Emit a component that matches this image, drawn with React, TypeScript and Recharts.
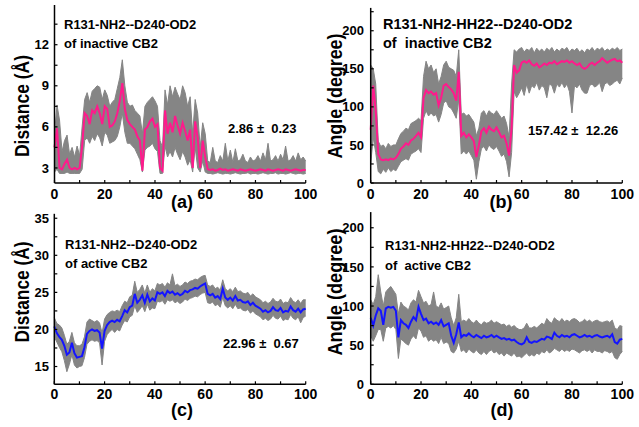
import React from 'react';
import { ComposedChart, Area, Line, XAxis, YAxis, Label } from 'recharts';

const FONT = "'Liberation Sans', Arial, sans-serif";
const GRAY = '#858585';
const PINK = '#ff1a8c';
const BLUE = '#1414ff';

// time in ns, one sample per ns
const TIME = Array.from({ length: 101 }, (_, i) => i);
const X_TICKS = [0, 10, 20, 30, 40, 50, 60, 70, 80, 90, 100];

// (a) distance, inactive
const A_MEAN = [
  4.5, 5.9, 3.0, 2.9, 3.3, 3.6, 3.0, 2.9, 3.0, 2.9,
  3.0, 4.6, 7.0, 6.8, 6.2, 7.2, 7.0, 7.5, 7.0, 6.2,
  7.5, 7.3, 6.0, 6.1, 6.4, 7.0, 7.9, 9.2, 7.3, 6.5,
  6.2, 6.0, 5.8, 5.3, 5.0, 2.8, 5.8, 6.0, 6.4, 6.6,
  6.0, 6.2, 3.0, 2.8, 7.2, 5.5, 6.3, 5.6, 6.8, 6.1,
  5.5, 6.3, 5.7, 5.0, 5.8, 3.0, 6.4, 5.2, 3.0, 5.0,
  3.8, 2.9, 2.85, 2.9, 2.8, 2.85, 2.95, 2.85, 2.9, 2.8,
  2.85, 2.9, 2.85, 2.8, 2.9, 2.85, 2.8, 2.85, 2.9, 2.85,
  2.8, 2.85, 2.9, 2.85, 2.8, 2.9, 2.85, 2.8, 2.85, 2.9,
  2.85, 2.8, 2.9, 2.85, 2.8, 2.85, 2.9, 2.85, 2.8, 2.85,
  2.85,
];
const A_LO = [
  2.7, 2.9, 2.6, 2.6, 2.6, 2.7, 2.6, 2.6, 2.6, 2.6,
  2.6, 2.9, 5.0, 5.2, 4.8, 5.3, 5.0, 5.5, 5.2, 4.6,
  5.6, 5.4, 4.8, 4.9, 5.0, 5.3, 6.0, 7.0, 5.6, 4.8,
  4.8, 4.6, 4.4, 4.0, 3.6, 2.7, 4.3, 4.5, 4.6, 4.8,
  4.4, 4.2, 2.6, 2.6, 4.6, 3.8, 4.2, 3.8, 4.5, 4.0,
  3.6, 4.2, 3.8, 3.2, 3.6, 2.7, 4.5, 3.0, 2.7, 3.5,
  2.7, 2.6, 2.6, 2.55, 2.6, 2.65, 2.6, 2.55, 2.6, 2.6,
  2.55, 2.6, 2.65, 2.6, 2.55, 2.6, 2.6, 2.65, 2.55, 2.6,
  2.6, 2.55, 2.6, 2.65, 2.6, 2.55, 2.6, 2.6, 2.65, 2.55,
  2.6, 2.6, 2.55, 2.6, 2.65, 2.6, 2.55, 2.6, 2.6, 2.55,
  2.6,
];
const A_HI = [
  5.5, 7.6, 6.5, 4.2, 5.0, 5.4, 4.0, 4.5, 3.8, 4.6,
  3.9, 6.0, 8.0, 8.5, 7.8, 8.6, 8.8, 9.0, 8.9, 8.0,
  8.7, 8.3, 7.5, 7.8, 8.0, 8.8, 9.6, 10.9, 9.0, 7.8,
  7.5, 7.6, 7.2, 7.0, 6.8, 5.5, 7.5, 7.8, 8.0, 8.2,
  7.9, 7.5, 5.0, 4.5, 8.7, 7.6, 9.0, 8.2, 8.9, 8.4,
  8.0, 9.0, 8.5, 7.5, 8.2, 5.5, 8.0, 7.0, 4.5, 6.3,
  5.5, 3.5, 3.4, 4.5, 3.5, 3.4, 3.9, 3.5, 4.8, 3.5,
  4.3, 3.4, 4.4, 3.5, 3.6, 4.0, 3.5, 3.4, 3.8, 3.5,
  3.6, 3.9, 3.5, 4.1, 3.6, 4.8, 3.5, 3.6, 3.9, 3.5,
  4.0, 3.6, 4.6, 3.5, 3.6, 3.9, 3.5, 4.1, 3.6, 3.8,
  3.5,
];

// (b) angle, inactive
const B_MEAN = [
  70, 128, 95, 38, 31, 30, 31, 30, 32, 31,
  33, 38, 45, 48, 52, 50, 56, 58, 62, 66,
  60, 112, 122, 118, 120, 116, 118, 102, 112, 128,
  130, 126, 123, 118, 108, 146, 62, 66, 60, 64,
  60, 55, 34, 50, 68, 72, 66, 74, 70, 68,
  73, 67, 60, 62, 52, 36, 72, 155, 145, 148,
  158, 160, 158, 161, 156, 154, 157, 152, 154, 157,
  155, 158, 157, 160, 156, 158, 160, 159, 161, 158,
  160, 157, 155, 157, 152, 150, 152, 156, 158, 155,
  158, 160, 164, 161, 158, 160, 162, 163, 160, 161,
  158,
];
const B_LO = [
  25, 60, 40, 15, 12, 18, 14, 20, 15, 18,
  16, 22, 28, 30, 32, 30, 38, 40, 42, 45,
  40, 85, 95, 88, 92, 88, 90, 80, 90, 105,
  108, 100, 98, 92, 85, 110, 38, 42, 38, 42,
  36, 30, 5, 28, 45, 48, 42, 50, 46, 44,
  48, 42, 35, 38, 28, 8, 40, 120, 112, 118,
  125, 115, 130, 118, 128, 125, 132, 122, 128, 125,
  112, 130, 128, 118, 130, 126, 132, 125, 130, 120,
  92, 128, 125, 130, 122, 118, 118, 128, 130, 126,
  128, 132, 120, 130, 132, 128, 130, 133, 135, 130,
  138,
];
const B_HI = [
  155, 150, 130, 55, 48, 50, 45, 52, 48, 50,
  50, 58, 65, 68, 72, 70, 78, 80, 82, 85,
  82, 140, 160, 150, 155, 145, 150, 130, 140, 155,
  160, 152, 150, 148, 140, 175, 90, 92, 88, 90,
  85, 80, 62, 72, 92, 95, 88, 95, 92, 90,
  95, 90, 85, 88, 78, 60, 130, 175, 172, 176,
  178, 172, 176, 174, 178, 171, 177, 173, 176, 172,
  177, 174, 178, 172, 176, 173, 177, 175, 178, 172,
  176, 174, 177, 172, 175, 171, 176, 174, 178, 173,
  177, 175, 178, 173, 176, 174, 177, 175, 178, 174,
  176,
];

// (c) distance, active
const C_MEAN = [
  20.4, 19.5, 19.0, 18.6, 17.8, 16.6, 16.9, 18.2, 16.8, 16.2,
  16.3, 16.4, 17.6, 19.4, 19.8, 20.0, 19.8, 19.9, 19.6, 17.4,
  19.8, 20.6, 21.0, 21.2, 21.0, 21.3, 21.1, 21.8, 22.6, 22.3,
  23.0, 23.2, 24.8, 23.6, 24.0, 24.6, 23.6, 24.7, 23.8, 24.2,
  23.9, 25.0, 24.8, 25.0, 24.5, 25.2, 24.9, 25.1, 24.7, 24.9,
  24.6, 24.8, 25.2, 25.0, 25.3, 25.4, 25.6, 25.5, 25.8, 26.0,
  26.2, 24.8, 24.6, 24.8, 24.3, 24.5, 24.1, 25.5, 24.3, 24.0,
  24.3, 23.9, 24.5, 23.9, 24.0, 23.7, 23.6, 23.8, 23.3, 23.6,
  23.2, 23.0, 22.8, 22.4, 22.6, 22.3, 22.5, 23.0, 22.6, 22.5,
  22.9, 22.3, 22.5, 22.4, 23.1, 22.6, 22.4, 22.8, 22.3, 22.7,
  22.8,
];
const C_LO = [
  19.0, 18.3, 17.6, 17.0, 15.8, 14.3, 15.3, 16.6, 15.2, 14.8,
  15.0, 15.1, 16.2, 18.0, 18.4, 18.6, 18.4, 18.5, 18.2, 15.2,
  18.4, 19.3, 19.7, 20.0, 19.6, 20.0, 19.8, 20.6, 21.2, 21.0,
  21.7, 21.9, 23.2, 22.3, 22.7, 23.2, 22.4, 23.4, 22.6, 22.9,
  22.8, 23.8, 23.7, 23.9, 23.4, 24.0, 23.8, 24.0, 23.6, 23.8,
  23.5, 23.7, 24.1, 23.9, 24.2, 24.3, 24.5, 24.4, 24.7, 24.9,
  25.0, 23.6, 23.5, 23.7, 23.2, 23.4, 23.0, 24.3, 23.2, 22.9,
  23.2, 22.8, 23.4, 22.8, 22.9, 22.6, 22.5, 22.7, 22.2, 22.5,
  22.1, 21.9, 21.7, 21.3, 21.5, 21.2, 21.4, 21.9, 21.5, 21.4,
  21.8, 21.2, 21.4, 21.3, 22.0, 21.5, 21.3, 21.7, 20.9, 21.6,
  21.8,
];
const C_HI = [
  21.6, 20.8, 20.6, 20.2, 19.2, 18.0, 18.4, 19.6, 18.2, 17.8,
  17.8, 18.0, 19.0, 21.0, 21.4, 21.2, 21.0, 21.2, 20.9, 19.5,
  21.4, 22.0, 22.3, 22.5, 22.4, 22.6, 22.4, 23.2, 23.8, 23.6,
  24.4, 24.6, 26.5, 25.0, 25.4, 26.0, 24.9, 26.0, 25.0, 25.5,
  25.2, 26.2, 26.0, 26.2, 25.7, 26.3, 26.0, 27.5, 25.9, 26.1,
  25.8, 26.0, 26.4, 26.2, 26.5, 26.6, 26.8, 26.7, 27.0, 27.2,
  27.3, 26.0, 25.8, 26.0, 25.5, 25.7, 25.3, 26.7, 25.5, 25.2,
  25.5, 25.1, 25.7, 25.1, 25.2, 24.9, 24.8, 25.0, 24.5, 24.8,
  24.4, 24.2, 24.0, 23.6, 23.8, 23.5, 23.7, 24.2, 23.8, 23.7,
  24.1, 23.5, 23.7, 23.6, 24.3, 23.8, 23.6, 24.0, 23.5, 24.0,
  24.0,
];

// (d) angle, active
const D_MEAN = [
  85, 75, 88, 97, 94, 76, 97, 99, 98, 99,
  94, 60, 82, 78, 76, 72, 80, 86, 82, 99,
  90, 82, 84, 78, 80, 77, 79, 76, 82, 74,
  76, 78, 62, 53, 64, 79, 60, 63, 62, 65,
  62, 60, 63, 61, 59, 62, 60, 61, 63, 60,
  62, 60, 58, 59, 57, 58, 56, 57, 54, 52,
  51, 53, 60, 54, 53, 55, 54, 56, 58, 57,
  61, 60, 58, 66, 62, 60, 63, 61, 62, 60,
  63, 64, 62, 60, 61, 63, 61, 62, 60, 62,
  63, 61, 60, 61, 62, 60, 64, 54, 52, 57,
  58,
];
const D_LO = [
  62, 55, 62, 70, 70, 55, 72, 74, 72, 75,
  70, 33, 58, 55, 52, 50, 58, 62, 58, 72,
  68, 60, 62, 55, 58, 55, 57, 52, 60, 52,
  54, 52, 42, 40, 45, 55, 42, 44, 40, 45,
  42, 40, 44, 40, 38, 42, 38, 42, 44, 40,
  42, 38, 40, 36, 40, 38, 36, 40, 35, 36,
  34, 37, 40, 36, 38, 36, 40, 38, 42, 40,
  44, 40, 42, 46, 44, 42, 45, 42, 44, 42,
  45, 44, 42, 40, 43, 44, 42, 44, 40, 44,
  42, 42, 40, 43, 42, 40, 42, 34, 32, 38,
  42,
];
const D_HI = [
  108, 102, 112, 140, 118, 100, 118, 122, 125, 120,
  115, 90, 105, 100, 98, 95, 104, 108, 105, 120,
  112, 104, 106, 100, 102, 118, 100, 98, 104, 96,
  98, 100, 85, 75, 85, 115, 80, 82, 80, 84,
  80, 78, 82, 78, 76, 80, 78, 79, 82, 78,
  80, 78, 76, 77, 74, 76, 73, 75, 72, 70,
  70, 72, 78, 72, 72, 74, 72, 75, 78, 76,
  84, 80, 78, 85, 82, 80, 84, 80, 82, 80,
  83, 84, 82, 79, 80, 83, 80, 82, 79, 81,
  82, 80, 79, 80, 81, 79, 82, 72, 70, 75,
  74,
];

const AXIS_LINE = { stroke: '#000', strokeWidth: 1.5 };
const TICK_LINE = { stroke: '#000', strokeWidth: 1.2 };
const X_TICK_STYLE = { fontSize: 14, fontWeight: 700, fill: '#000', fontFamily: FONT };
const Y_TICK_STYLE = { fontSize: 13, fontWeight: 700, fill: '#000', fontFamily: FONT };

interface PanelProps {
  left: number;
  top: number;
  width: number;
  mean: number[];
  lo: number[];
  hi: number[];
  color: string;
  domain: [number, number];
  yTicks: number[];
  yStep: number;
  marginTop: number;
  marginRight: number;
  yAxisWidth: number;
  xAxisHeight: number;
  xTickMargin: number;
  yTickMargin: number;
  yLabel: string;
  labelX: number;
  labelY: number;
  labelLen: number;
}

function Panel(p: PanelProps) {
  const data = TIME.map((t, i) => ({ t, band: [p.lo[i], p.hi[i]], mean: p.mean[i] }));
  return (
    <div style={{ position: 'absolute', left: p.left, top: p.top }}>
      <ComposedChart
        width={p.width}
        height={210}
        data={data}
        margin={{ top: p.marginTop, right: p.marginRight, bottom: 0, left: 0 }}
      >
        <XAxis
          dataKey="t"
          type="number"
          domain={[0, 100]}
          ticks={X_TICKS}
          interval={0}
          tickFormatter={(v) => (v % 20 === 0 ? String(v) : '')}
          height={p.xAxisHeight}
          tickSize={-3}
          tickMargin={p.xTickMargin}
          axisLine={AXIS_LINE}
          tickLine={TICK_LINE}
          tick={X_TICK_STYLE}
        />
        <YAxis
          type="number"
          domain={p.domain}
          allowDataOverflow
          ticks={p.yTicks}
          interval={0}
          tickFormatter={(v) => (v % p.yStep === 0 ? String(v) : '')}
          width={p.yAxisWidth}
          tickSize={-3}
          tickMargin={p.yTickMargin}
          axisLine={AXIS_LINE}
          tickLine={TICK_LINE}
          tick={Y_TICK_STYLE}
        >
          <Label
            content={() => (
              <text
                x={p.labelX}
                y={p.labelY}
                transform={`rotate(-90 ${p.labelX} ${p.labelY})`}
                textAnchor="middle"
                textLength={p.labelLen}
                lengthAdjust="spacingAndGlyphs"
                fontSize={20}
                fontWeight={700}
                fontFamily={FONT}
                fill="#000"
              >
                {p.yLabel}
              </text>
            )}
          />
        </YAxis>
        <Area
          dataKey="band"
          type="linear"
          stroke={GRAY}
          strokeWidth={1}
          fill={GRAY}
          fillOpacity={1}
          dot={false}
          isAnimationActive={false}
        />
        <Line
          dataKey="mean"
          type="linear"
          stroke={p.color}
          strokeWidth={2}
          dot={false}
          isAnimationActive={false}
        />
      </ComposedChart>
    </div>
  );
}

const txt = (size: number) => ({
  fontSize: size,
  fontWeight: 700,
  fontFamily: FONT,
  fill: '#000',
  whiteSpace: 'pre' as const,
});

export default function App() {
  return (
    <div style={{ position: 'absolute', left: 0, top: 0, width: 639, height: 427, background: '#fff', overflow: 'hidden' }}>
      <Panel
        left={0} top={0} width={320}
        mean={A_MEAN} lo={A_LO} hi={A_HI} color={PINK}
        domain={[1.9, 14.9]} yTicks={[3, 4.5, 6, 7.5, 9, 10.5, 12, 13.5]} yStep={3}
        marginTop={5} marginRight={14.3} yAxisWidth={54.5} xAxisHeight={27}
        xTickMargin={9} yTickMargin={8.5}
        yLabel="Distance (Å)" labelX={29} labelY={106} labelLen={102}
      />
      <Panel
        left={320} top={0} width={319}
        mean={B_MEAN} lo={B_LO} hi={B_HI} color={PINK}
        domain={[0, 230]} yTicks={[0, 25, 50, 75, 100, 125, 150, 175, 200, 225]} yStep={50}
        marginTop={7.9} marginRight={16.7} yAxisWidth={50.7} xAxisHeight={27}
        xTickMargin={9} yTickMargin={9.7}
        yLabel="Angle (degree)" labelX={22} labelY={96} labelLen={125}
      />
      <Panel
        left={0} top={205} width={320}
        mean={C_MEAN} lo={C_LO} hi={C_HI} color={BLUE}
        domain={[12.6, 35.6]} yTicks={[15, 17.5, 20, 22.5, 25, 27.5, 30, 32.5, 35]} yStep={5}
        marginTop={8.8} marginRight={14.3} yAxisWidth={54.3} xAxisHeight={30.7}
        xTickMargin={7.7} yTickMargin={8.3}
        yLabel="Distance (Å)" labelX={29} labelY={87} labelLen={101}
      />
      <Panel
        left={320} top={205} width={319}
        mean={D_MEAN} lo={D_LO} hi={D_HI} color={BLUE}
        domain={[0, 220]} yTicks={[0, 25, 50, 75, 100, 125, 150, 175, 200]} yStep={50}
        marginTop={7.1} marginRight={16.7} yAxisWidth={50.7} xAxisHeight={30.7}
        xTickMargin={7.7} yTickMargin={9.7}
        yLabel="Angle (degree)" labelX={22} labelY={87} labelLen={127}
      />
      <svg width={639} height={427} style={{ position: 'absolute', left: 0, top: 0, pointerEvents: 'none' }}>
        <text x={64} y={29} style={txt(13)}>R131-NH2--D240-OD2</text>
        <text x={64} y={47.5} style={txt(13)}>of inactive CB2</text>
        <text x={228} y={133} style={txt(13)}>{'2.86 ±  0.23'}</text>
        <text x={182} y={208} textAnchor="middle" style={txt(18)}>(a)</text>

        <text x={383} y={29} style={txt(14.5)}>R131-NH2-HH22--D240-OD2</text>
        <text x={383} y={47.5} style={txt(14.5)}>{'of  inactive CB2'}</text>
        <text x={528} y={135} style={txt(13)}>{'157.42 ±  12.26'}</text>
        <text x={501} y={208} textAnchor="middle" style={txt(18)}>(b)</text>

        <text x={65} y={249} style={txt(13)}>R131-NH2--D240-OD2</text>
        <text x={65} y={268} style={txt(13)}>of active CB2</text>
        <text x={223} y={348} style={txt(13)}>{'22.96 ±  0.67'}</text>
        <text x={182} y={416} textAnchor="middle" style={txt(18)}>(c)</text>

        <text x={385} y={250} style={txt(13)}>R131-NH2-HH22--D240-OD2</text>
        <text x={385} y={270} style={txt(13)}>{'of  active CB2'}</text>
        <text x={502} y={416} textAnchor="middle" style={txt(18)}>(d)</text>
      </svg>
    </div>
  );
}
